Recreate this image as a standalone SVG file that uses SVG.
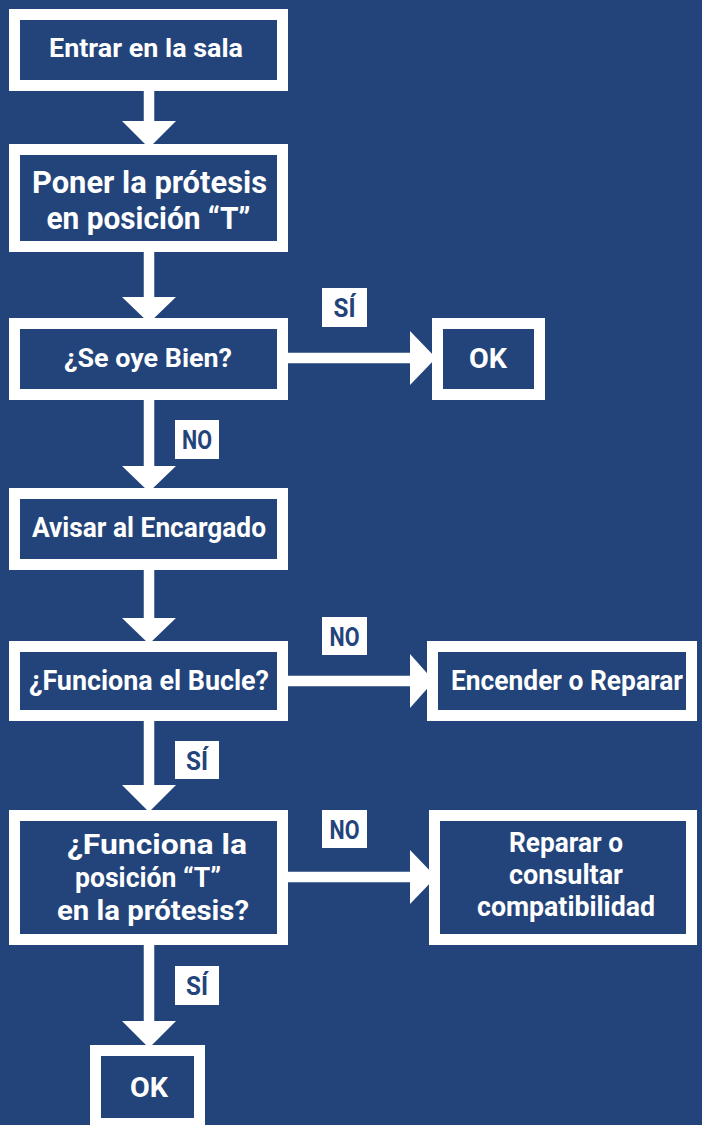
<svg xmlns="http://www.w3.org/2000/svg" width="702" height="1125" viewBox="0 0 702 1125">
<style>
.bg{fill:#23447a}
.box{fill:#23447a;stroke:#ffffff;stroke-width:11}
.t{font-family:Roboto,"Liberation Sans",sans-serif;font-weight:700;fill:#ffffff;text-anchor:middle}
.lb{fill:#ffffff}
.lt{font-family:Roboto,"Liberation Sans",sans-serif;font-weight:700;fill:#23447a;text-anchor:middle;font-size:25px}
.ln{stroke:#ffffff;stroke-width:10.5;fill:none}
.hd{fill:#ffffff}
</style>
<rect class="bg" x="0" y="0" width="702" height="1125"/>
<g id="connectors">
<line class="ln" x1="149" y1="91" x2="149" y2="123"/>
<polygon class="hd" points="122,121 176,121 149,148"/>
<line class="ln" x1="149" y1="252" x2="149" y2="299"/>
<polygon class="hd" points="122,297 176,297 149,323"/>
<line class="ln" x1="149" y1="400" x2="149" y2="468"/>
<polygon class="hd" points="122,466 176,466 149,492"/>
<line class="ln" x1="149" y1="570" x2="149" y2="620"/>
<polygon class="hd" points="122,618 176,618 149,644"/>
<line class="ln" x1="149" y1="721" x2="149" y2="787"/>
<polygon class="hd" points="122,785 176,785 149,812"/>
<line class="ln" x1="149" y1="945" x2="149" y2="1023"/>
<polygon class="hd" points="122,1021 176,1021 149,1048"/>
<line class="ln" x1="288" y1="358" x2="412" y2="358"/>
<polygon class="hd" points="410,331 410,385 436,358"/>
<line class="ln" x1="288" y1="681" x2="412" y2="681"/>
<polygon class="hd" points="410,654 410,708 434,681"/>
<line class="ln" x1="288" y1="877" x2="412" y2="877"/>
<polygon class="hd" points="410,850 410,904 436,877"/>
<g id="labels">
<rect class="lb" x="322" y="288" width="45" height="39"/>
<text class="lt" x="344.5" y="317" textLength="22" lengthAdjust="spacingAndGlyphs">SÍ</text>
<rect class="lb" x="175" y="420" width="44" height="39"/>
<text class="lt" x="197" y="449" textLength="30" lengthAdjust="spacingAndGlyphs">NO</text>
<rect class="lb" x="322" y="617" width="45" height="38"/>
<text class="lt" x="344.5" y="646" textLength="30" lengthAdjust="spacingAndGlyphs">NO</text>
<rect class="lb" x="175" y="741" width="44" height="38"/>
<text class="lt" x="197" y="770" textLength="22" lengthAdjust="spacingAndGlyphs">SÍ</text>
<rect class="lb" x="322" y="810" width="45" height="38"/>
<text class="lt" x="344.5" y="839" textLength="30" lengthAdjust="spacingAndGlyphs">NO</text>
<rect class="lb" x="175" y="966" width="44" height="39"/>
<text class="lt" x="197" y="995" textLength="22" lengthAdjust="spacingAndGlyphs">SÍ</text>
</g>
</g>
<g id="n1">
<rect class="box" x="14.5" y="14.5" width="268" height="71"/>
<text class="t" x="146" y="57" font-size="25" textLength="194" lengthAdjust="spacingAndGlyphs">Entrar en la sala</text>
</g>
<g id="n2">
<rect class="box" x="14.5" y="149.5" width="268" height="97"/>
<text class="t" x="149.5" y="193" font-size="31" textLength="235" lengthAdjust="spacingAndGlyphs">Poner la prótesis</text>
<text class="t" x="148.5" y="229" font-size="31" textLength="204" lengthAdjust="spacingAndGlyphs">en posición “T”</text>
</g>
<g id="n3">
<rect class="box" x="14.5" y="323.5" width="268" height="71"/>
<text class="t" x="148" y="367" font-size="25" textLength="168" lengthAdjust="spacingAndGlyphs">¿Se oye Bien?</text>
</g>
<g id="n4">
<rect class="box" x="437.5" y="323.5" width="102" height="71"/>
<text class="t" x="488" y="368" font-size="28" textLength="38" lengthAdjust="spacingAndGlyphs">OK</text>
</g>
<g id="n5">
<rect class="box" x="14.5" y="493.5" width="268" height="71"/>
<text class="t" x="149" y="537" font-size="27" textLength="234" lengthAdjust="spacingAndGlyphs">Avisar al Encargado</text>
</g>
<g id="n6">
<rect class="box" x="14.5" y="646.5" width="268" height="69"/>
<text class="t" x="149" y="690" font-size="27" textLength="240" lengthAdjust="spacingAndGlyphs">¿Funciona el Bucle?</text>
</g>
<g id="n7">
<rect class="box" x="432.5" y="646.5" width="259" height="69"/>
<text class="t" x="567" y="690" font-size="27" textLength="232" lengthAdjust="spacingAndGlyphs">Encender o Reparar</text>
</g>
<g id="n8">
<rect class="box" x="14.5" y="815.5" width="268" height="124"/>
<text class="t" x="157" y="854" font-size="27" textLength="180" lengthAdjust="spacingAndGlyphs">¿Funciona la</text>
<text class="t" x="148" y="887" font-size="27" textLength="146" lengthAdjust="spacingAndGlyphs">posición “T”</text>
<text class="t" x="153" y="920" font-size="27" textLength="192" lengthAdjust="spacingAndGlyphs">en la prótesis?</text>
</g>
<g id="n9">
<rect class="box" x="434.5" y="815.5" width="257" height="124"/>
<text class="t" x="566" y="852" font-size="27" textLength="114" lengthAdjust="spacingAndGlyphs">Reparar o</text>
<text class="t" x="566" y="884" font-size="27" textLength="114" lengthAdjust="spacingAndGlyphs">consultar</text>
<text class="t" x="566" y="916" font-size="27" textLength="178" lengthAdjust="spacingAndGlyphs">compatibilidad</text>
</g>
<g id="n10">
<rect class="box" x="95.5" y="1050.5" width="104" height="73"/>
<text class="t" x="149" y="1097" font-size="28" textLength="38" lengthAdjust="spacingAndGlyphs">OK</text>
</g>
</svg>
